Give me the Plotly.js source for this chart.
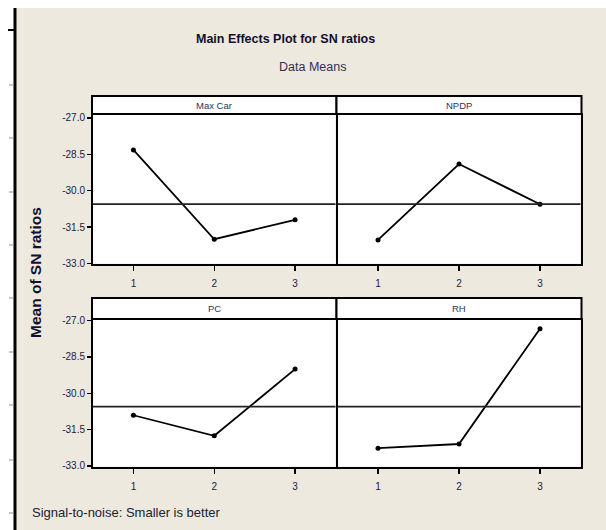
<!DOCTYPE html>
<html>
<head>
<meta charset="utf-8">
<script src="https://cdn.plot.ly/plotly-3.0.1.min.js"></script>
<style>
html,body{margin:0;padding:0;background:#ffffff;}
#chart{width:606px;height:530px;}
</style>
</head>
<body>
<div id="chart"></div>
<script>
// ---- data ----
const levels = [1, 2, 3];
const factorNames = ["Max Car", "NPDP", "PC", "RH"];
const maxCar = [-28.32, -32.00, -31.20];
const npdp   = [-32.03, -28.90, -30.56];
const pc     = [-30.91, -31.76, -29.00];
const rh     = [-32.27, -32.10, -27.33];
const overallMean = -30.55;
const yTickVals = [-27.0, -28.5, -30.0, -31.5, -33.0];
const yTickText = ["-27.0", "-28.5", "-30.0", "-31.5", "-33.0"];
const xTickText = ["1", "2", "3"];

// ---- layout helpers (pixel -> paper) ----
const W = 606, H = 530;
const px = v => v / W;
const py = v => 1 - v / H;

const colL = [93, 335.5], colR = [337.5, 580.5];
const rowT = [115, 263.5], rowB = [320, 466.5];
const hdrT = [96, 114], hdrB = [298, 319];
const hdrColL = [92, 336.5], hdrColR = [336.5, 581.5];

const series = [maxCar, npdp, pc, rh];
const traces = series.map((vals, i) => ({
  x: levels, y: vals, type: "scatter", mode: "lines+markers",
  xaxis: i === 0 ? "x" : "x" + (i + 1),
  yaxis: i === 0 ? "y" : "y" + (i + 1),
  line: {color: "#000000", width: 1.8},
  marker: {color: "#000000", size: 5, symbol: "circle"},
  hoverinfo: "skip", showlegend: false
}));

const tickFont = {family: "Liberation Sans, Arial", size: 10, color: "#202040"};

function xAxis(dom, anchor) {
  return {
    domain: [px(dom[0]), px(dom[1])], anchor: anchor,
    range: [0.5, 3.5], tickvals: levels, ticktext: xTickText,
    ticks: "outside", ticklen: 5, tickwidth: 1.5, tickcolor: "#000",
    ticklabelstandoff: 4,
    tickfont: tickFont, showgrid: false, zeroline: false,
    showline: true, mirror: true, linecolor: "#000", linewidth: 2,
    fixedrange: true
  };
}
function yAxis(dom, anchor, showLabels, range) {
  return {
    domain: [py(dom[1]), py(dom[0])], anchor: anchor,
    range: range, tickvals: yTickVals, ticktext: yTickText,
    ticks: showLabels ? "outside" : "", ticklen: 4, tickwidth: 1.5, tickcolor: "#000",
    showticklabels: showLabels, tickfont: tickFont,
    showgrid: false, zeroline: false,
    showline: true, mirror: true, linecolor: "#000", linewidth: 2,
    fixedrange: true
  };
}

const rangeTop = [-33.0, -26.88];
const rangeBot = [-33.03, -26.97];

const shapes = [];
const annotations = [];

// header strips
const headers = [
  [hdrColL, hdrT, factorNames[0]],
  [hdrColR, hdrT, factorNames[1]],
  [hdrColL, hdrB, factorNames[2]],
  [hdrColR, hdrB, factorNames[3]]
];
headers.forEach(([c, r, name]) => {
  shapes.push({type: "rect", xref: "paper", yref: "paper",
    x0: px(c[0]), x1: px(c[1]), y0: py(r[1]), y1: py(r[0]),
    fillcolor: "#ffffff", line: {color: "#000", width: 2}, layer: "below"});
  annotations.push({xref: "paper", yref: "paper", x: px((c[0] + c[1]) / 2), y: py((r[0] + r[1]) / 2),
    text: name, showarrow: false, xanchor: "center", yanchor: "middle",
    font: {family: "Liberation Sans, Arial", size: 9.5, color: "#303060"}});
});

// reference mean lines
["y", "y2", "y3", "y4"].forEach((ya, i) => {
  const xa = i === 0 ? "x" : "x" + (i + 1);
  shapes.push({type: "line", xref: xa + " domain", yref: ya, x0: 0, x1: 1,
    y0: overallMean, y1: overallMean, line: {color: "#222", width: 1.8}, layer: "above"});
});

// page decoration: left white strip, black edge, top white strip, ruler ticks
shapes.push({type: "rect", xref: "paper", yref: "paper", x0: 0, x1: px(14), y0: 0, y1: 1,
  fillcolor: "#ffffff", line: {width: 0}, layer: "below"});
shapes.push({type: "rect", xref: "paper", yref: "paper", x0: 0, x1: 1, y0: py(8), y1: 1,
  fillcolor: "#ffffff", line: {width: 0}, layer: "below"});
shapes.push({type: "line", xref: "paper", yref: "paper", x0: px(15), x1: px(15), y0: 0, y1: py(8),
  line: {color: "#000", width: 3}});
shapes.push({type: "line", xref: "paper", yref: "paper", x0: px(8), x1: px(15), y0: py(30), y1: py(30),
  line: {color: "#000", width: 2}});
[85, 138, 192, 245, 298, 352, 405, 460, 513].forEach(yy => {
  shapes.push({type: "line", xref: "paper", yref: "paper", x0: px(9), x1: px(13), y0: py(yy), y1: py(yy),
    line: {color: "#aab4c8", width: 1.5}});
});

// titles and texts
annotations.push({xref: "paper", yref: "paper", x: px(285), y: py(39), text: "<b>Main Effects Plot for SN ratios</b>",
  showarrow: false, xanchor: "center", yanchor: "middle",
  font: {family: "Liberation Sans, Arial", size: 12.5, color: "#101030"}});
annotations.push({xref: "paper", yref: "paper", x: px(312), y: py(67), text: "Data Means",
  showarrow: false, xanchor: "center", yanchor: "middle",
  font: {family: "Liberation Sans, Arial", size: 12.5, color: "#303050"}});
annotations.push({xref: "paper", yref: "paper", x: px(35), y: py(273), text: "<b>Mean of SN ratios</b>",
  textangle: -90, showarrow: false, xanchor: "center", yanchor: "middle",
  font: {family: "Liberation Sans, Arial", size: 15.5, color: "#101030"}});
annotations.push({xref: "paper", yref: "paper", x: px(30), y: py(512), text: "Signal-to-noise: Smaller is better",
  showarrow: false, xanchor: "left", yanchor: "middle",
  font: {family: "Liberation Sans, Arial", size: 13, color: "#202030"}});

const layout = {
  width: W, height: H,
  margin: {l: 0, r: 0, t: 0, b: 0},
  paper_bgcolor: "#EDE9DF",
  plot_bgcolor: "#ffffff",
  showlegend: false,
  xaxis: xAxis(colL, "y"),
  yaxis: yAxis(rowT, "x", true, rangeTop),
  xaxis2: xAxis(colR, "y2"),
  yaxis2: yAxis(rowT, "x2", false, rangeTop),
  xaxis3: xAxis(colL, "y3"),
  yaxis3: yAxis(rowB, "x3", true, rangeBot),
  xaxis4: xAxis(colR, "y4"),
  yaxis4: yAxis(rowB, "x4", false, rangeBot),
  shapes: shapes,
  annotations: annotations
};

Plotly.newPlot("chart", traces, layout, {displayModeBar: false, staticPlot: true});
</script>
</body>
</html>
